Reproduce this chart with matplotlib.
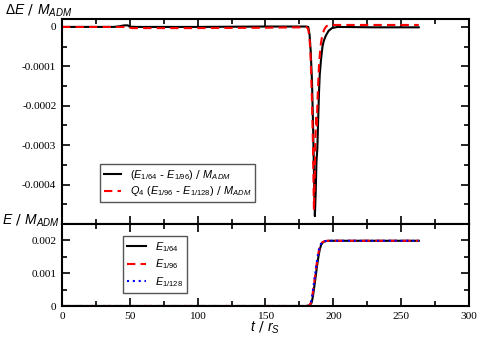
import matplotlib
matplotlib.use("Agg")
import matplotlib.pyplot as plt
from matplotlib.ticker import MultipleLocator

plt.rcParams['axes.unicode_minus'] = False
plt.rcParams['mathtext.fontset'] = 'custom'
plt.rcParams['mathtext.rm'] = 'Liberation Sans'
plt.rcParams['mathtext.it'] = 'Liberation Sans:italic'
plt.rcParams['mathtext.bf'] = 'Liberation Sans:bold'

# --- top panel: energy differences ---
t_diff_64_96 = [0, 38, 42, 46, 48.5, 50, 55, 100, 150, 175, 180, 181.5, 182.5, 183.3,
                184.3, 185.2, 185.9, 186.4, 187.0, 187.6, 188.2, 188.8, 189.4, 190.0,
                191.0, 192.0, 193.0, 194.5, 196.5, 199, 203, 230, 263]
diff_64_96 = [0, 0, 0.0000015, 0.000004, 0.000004, 0.0000005, 0, 0, 0.000001, 0.000001,
              0.000001, 0, -0.00002, -0.00006, -0.00014, -0.00027, -0.0004, -0.00048,
              -0.00042, -0.00034, -0.00031, -0.00024, -0.00017, -0.00012, -0.00008,
              -0.00005, -0.000035, -0.000022, -0.00001, -0.000003, 0, -0.000001, -0.000001]

t_diff_96_128 = [0, 46, 49, 52, 100, 150, 175, 180, 181.5, 182.5, 183.3, 184.2, 185.0,
                 185.7, 186.2, 186.7, 187.0, 187.4, 187.8, 188.4, 189.4, 190.5, 191.9,
                 193.5, 195, 197, 263]
diff_96_128_q4 = [0, 0, -0.000002, -0.000003, -0.000003, -0.000002, -0.000001, 0,
                  -0.000005, -0.00003, -0.00008, -0.00018, -0.0003, -0.000465, -0.0004,
                  -0.0003, -0.00026, -0.00023, -0.00025, -0.00018, -0.0001, -0.00005,
                  -0.00002, -0.000005, 0.000002, 0.000005, 0.000005]

# --- bottom panel: radiated energy ---
t_E64 = [0, 180, 182.5, 184, 185, 186, 187, 188, 189, 190, 191, 192, 193, 194.5, 196.5, 200, 263]
E64 = [0, 0, 0.00001, 0.0001, 0.0003, 0.0006, 0.0009, 0.00122, 0.0015, 0.00172, 0.00186,
       0.00193, 0.00196, 0.00198, 0.00199, 0.00199, 0.00199]
t_E96 = [0, 180, 182, 183.5, 184.5, 185.5, 186.5, 187.5, 188.5, 189.5, 190.5, 191.5, 192.5, 194, 196, 200, 263]
E96 = [0, 0, 0.00001, 0.0001, 0.0003, 0.0006, 0.0009, 0.00122, 0.0015, 0.00172, 0.00186,
       0.00193, 0.00196, 0.00198, 0.00199, 0.00199, 0.00199]
t_E128 = [0, 180, 182, 183.4, 184.4, 185.4, 186.4, 187.4, 188.4, 189.4, 190.4, 191.4, 192.4, 194, 196, 200, 263]
E128 = [0, 0, 0.00001, 0.0001, 0.0003, 0.0006, 0.0009, 0.00122, 0.0015, 0.00172, 0.00186,
        0.00193, 0.00196, 0.00198, 0.00199, 0.00199, 0.00199]

x_ticks = [0, 50, 100, 150, 200, 250, 300]
x_labels = ['0', '50', '100', '150', '200', '250', '300']
top_yticks = [0, -0.0001, -0.0002, -0.0003, -0.0004]
top_ylabels = ['0', '-0.0001', '-0.0002', '-0.0003', '-0.0004']
bot_yticks = [0, 0.001, 0.002]
bot_ylabels = ['0', '0.001', '0.002']

serif = 'Liberation Serif'
tick_fs = 8.2

fig = plt.figure(figsize=(4.79, 3.40), dpi=100)
ax1 = fig.add_axes([0.1294, 0.341, 0.8497, 0.603])
ax2 = fig.add_axes([0.1294, 0.100, 0.8497, 0.241])

def style(ax):
    for s in ax.spines.values():
        s.set_linewidth(1.5)
    ax.tick_params(which='both', direction='in', top=True, right=True, width=1.2)
    ax.tick_params(which='major', length=6, pad=4)
    ax.tick_params(which='minor', length=3.5)
    ax.set_xlim(0, 300)
    ax.xaxis.set_minor_locator(MultipleLocator(25))

ax1.plot(t_diff_64_96, diff_64_96, color='black', lw=1.5,
         label=r'$(E_{1/64}$ - $E_{1/96})$ / $M_{ADM}$')
ax1.plot(t_diff_96_128, diff_96_128_q4, color='red', lw=1.5, ls=(0, (4, 2.5)),
         label=r'$Q_4$ $(E_{1/96}$ - $E_{1/128})$ / $M_{ADM}$')
style(ax1)
ax1.set_ylim(-0.0005, 0.00002)
ax1.set_xticks(x_ticks)
ax1.set_xticklabels([])
ax1.set_yticks(top_yticks)
ax1.set_yticklabels(top_ylabels, family=serif, fontsize=tick_fs)
ax1.yaxis.set_minor_locator(MultipleLocator(0.00005))
leg1 = ax1.legend(loc='lower left', bbox_to_anchor=(0.093, 0.107), borderaxespad=0,
                  fancybox=False, framealpha=1, edgecolor='#555555', fontsize=7.8,
                  handlelength=1.6, handletextpad=0.8, borderpad=0.35, labelspacing=0.2)
leg1.get_frame().set_linewidth(1.0)

ax2.plot(t_E64, E64, color='black', lw=1.5, label=r'$E_{1/64}$')
ax2.plot(t_E96, E96, color='red', lw=1.5, ls=(0, (4, 2.5)), label=r'$E_{1/96}$')
ax2.plot(t_E128, E128, color='blue', lw=1.5, ls=(0, (1, 1.8)), label=r'$E_{1/128}$')
style(ax2)
ax2.set_ylim(0, 0.0025)
ax2.set_xticks(x_ticks)
ax2.set_xticklabels(x_labels, family=serif, fontsize=tick_fs)
ax2.set_yticks(bot_yticks)
ax2.set_yticklabels(bot_ylabels, family=serif, fontsize=tick_fs)
ax2.yaxis.set_minor_locator(MultipleLocator(0.0005))
leg2 = ax2.legend(loc='upper left', bbox_to_anchor=(0.15, 0.854), borderaxespad=0,
                  fancybox=False, framealpha=1, edgecolor='#555555', fontsize=7.8,
                  handlelength=1.8, handletextpad=0.8, borderpad=0.35, labelspacing=0.35)
leg2.get_frame().set_linewidth(1.0)

fig.text(0.01, 0.958, r'$\Delta E$ / $M_{ADM}$', fontsize=10, va='baseline', ha='left')
fig.text(0.004, 0.338, r'$E$ / $M_{ADM}$', fontsize=10, va='baseline', ha='left')
fig.text(0.554, 0.024, r'$t$ / $r_S$', fontsize=10, va='baseline', ha='center')

fig.savefig('out.png', dpi=100)
